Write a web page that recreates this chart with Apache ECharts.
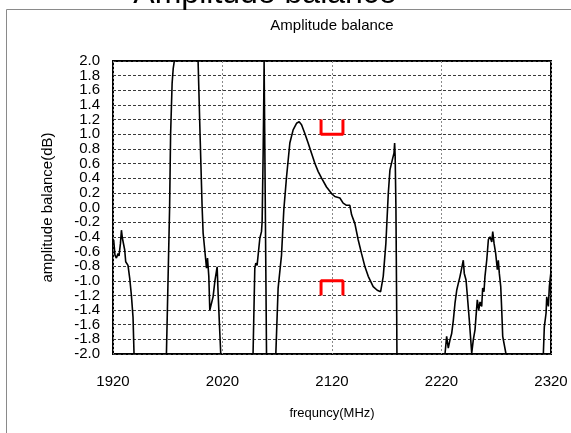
<!DOCTYPE html>
<html>
<head>
<meta charset="utf-8">
<script src="https://cdn.jsdelivr.net/npm/echarts@6/dist/echarts.min.js"></script>
<style>
  html, body { margin: 0; padding: 0; background: #fff; }
  #chart { width: 571px; height: 433px; }
</style>
</head>
<body>
<div id="chart"></div>
<script>
  // measured trace, null = gap (curve leaves the ±2 dB window)
  var freqMHz = [
    1920.6, 1921.8, 1923.1, 1924.6, 1925.5, 1926.8, 1927.7, 1928.6, 1929.8, 1930.7,
    1931.6, 1932.8, 1933.7, 1935.3, 1936.8, 1938.3, 1939.2,
    1950,
    1968.8, 1971.7, 1972.6, 1974.0, 1975.0, 1976.0,
    1987,
    1997.7, 1999.5, 2001.4, 2002.3, 2002.9, 2004.7, 2005.4, 2006.3, 2007.5, 2008.4,
    2009.9, 2011.4, 2013.0, 2015.1, 2016.0, 2016.9, 2018.4,
    2030,
    2047.9, 2049.5, 2050.4, 2051.6, 2053.2, 2054.1, 2055.6, 2056.2, 2057.1, 2057.8,
    2058.0, 2059.6, 2060.2,
    2065,
    2068.7, 2070.8, 2073.9, 2076.0, 2078.5, 2081.5, 2084.5, 2087.6, 2090.0, 2092.2,
    2095.2, 2098.2, 2101.3, 2104.4, 2107.4, 2110.5, 2115.0, 2119.6, 2122.6, 2127.2,
    2130.2, 2133.3, 2136.3, 2137.9, 2139.4, 2140.9, 2143.9, 2147.0, 2150.1, 2153.1,
    2157.6, 2161.3, 2164.4, 2166.8, 2169.2, 2171.4, 2172.9, 2175.4, 2176.6, 2177.2,
    2177.7, 2178.4, 2179.0, 2179.3,
    2200,
    2223.2, 2224.7, 2226.2, 2227.7, 2229.3, 2230.8, 2232.3, 2233.9, 2235.3, 2236.9,
    2238.4, 2239.9, 2240.8, 2242.4, 2243.9, 2245.4, 2247.6, 2249.0, 2250.6, 2251.5,
    2252.7, 2254.0, 2255.2, 2256.7, 2257.6, 2258.8, 2259.7, 2261.3, 2262.8, 2264.3,
    2265.9, 2266.8, 2268.0, 2269.5, 2271.0, 2271.9, 2272.8, 2274.1, 2275.0, 2275.9,
    2277.1, 2278.9,
    2295,
    2313.0, 2313.9, 2315.5, 2316.1, 2317.6, 2318.5, 2319.8
  ]
  var balanceDb = [
    -0.44, -0.65, -0.69, -0.63, -0.66, -0.49, -0.31, -0.42, -0.40, -0.58,
    -0.74, -0.76, -0.79, -0.97, -1.20, -1.50, -2.0,
    null,
    -2.0, 0.0, 1.0, 1.7, 1.9, 2.0,
    null,
    2.0, 1.0, 0.0, -0.35, -0.44, -0.72, -0.83, -0.69, -0.94, -1.40,
    -1.42, -1.22, -1.01, -0.81, -1.17, -1.49, -2.0,
    null,
    -2.0, -0.83, -0.76, -0.79, -0.79, -0.42, -0.33, -0.19, 0.72, 1.63,
    2.0, 2.0, -2.0,
    null,
    -2.0, -1.10, -0.65, -0.03, 0.42, 0.88, 1.06, 1.15, 1.17, 1.13,
    1.01, 0.88, 0.74, 0.60, 0.49, 0.40, 0.28, 0.19, 0.15, 0.13,
    0.06, 0.03, 0.03, -0.10, -0.10, -0.22, -0.44, -0.63, -0.81, -0.94,
    -1.08, -1.13, -1.15, -0.94, -0.49, 0.19, 0.51, 0.67, 0.74, 0.88,
    0.69, -0.03, -1.26, -2.0,
    null,
    -2.0, -1.76, -1.92, -1.81, -1.72, -1.54, -1.31, -1.13, -1.04, -0.94,
    -0.83, -0.72, -0.90, -0.99, -1.26, -1.54, -1.99, -1.81, -1.67, -1.49,
    -1.26, -1.40, -1.29, -1.35, -1.10, -1.15, -0.94, -0.72, -0.44, -0.40,
    -0.47, -0.33, -0.49, -0.63, -0.85, -0.72, -0.90, -1.08, -1.40, -1.76,
    -1.77, -2.0,
    null,
    -2.0, -1.63, -1.44, -1.22, -1.35, -1.08, -0.90
  ]

  // spec brackets
  var specFreq = [2110, 2110, 2130, 2130]
  var specUpper = [1.2, 1.0, 1.0, 1.2]
  var specLower = [-1.2, -1.0, -1.0, -1.2]

  var fStart = 1920   // x axis is drawn as offset from 1920 MHz

  var traceData = freqMHz.map(function (f, i) {
    return [f - fStart, balanceDb[i] === null ? '-' : balanceDb[i]]
  })
  var upperData = specFreq.map(function (f, i) { return [f - fStart, specUpper[i]] })
  var lowerData = specFreq.map(function (f, i) { return [f - fStart, specLower[i]] })

  var font = 'Liberation Sans, Arial, sans-serif'
  var yLabelStyle = { margin: 13, fontFamily: font, fontSize: 15, color: '#000' }

  var option = {
    animation: false,
    backgroundColor: '#fff',
    title: {
      text: 'Amplitude balance',
      left: 327,
      textAlign: 'center',
      top: 13,
      textStyle: { fontFamily: font, fontSize: 15, fontWeight: 'normal', color: '#000' }
    },
    graphic: [
      {
        type: 'rect',
        shape: { x: 6.5, y: 9.5, width: 600, height: 500 },
        style: { fill: 'none', stroke: '#8a8a8a', lineWidth: 1 },
        silent: true
      },
      {
        type: 'text',
        x: 265,
        y: -6,
        style: {
          text: 'Amplitude balance',
          font: '32px ' + font,
          fill: '#000',
          align: 'center',
          verticalAlign: 'middle'
        },
        silent: true
      }
    ],
    grid: {
      left: 113,
      right: 20,
      top: 61,
      bottom: 79,
      show: true,
      borderColor: '#000',
      borderWidth: 2,
      backgroundColor: 'transparent'
    },
    xAxis: {
      type: 'value',
      min: 0,
      max: 400,
      interval: 100,
      name: 'frequncy(MHz)',
      nameLocation: 'middle',
      nameGap: 53,
      nameTextStyle: { fontFamily: font, fontSize: 13, color: '#000' },
      axisLine: { show: false },
      axisTick: { show: false },
      axisLabel: {
        margin: 20,
        fontFamily: font,
        fontSize: 15,
        color: '#000',
        showMinLabel: true,
        showMaxLabel: true,
        formatter: function (v) { return String(v + fStart) }
      },
      splitLine: { show: true, lineStyle: { color: '#8a8a8a', width: 1, type: [2, 2] } }
    },
    yAxis: [
      {
        type: 'value',
        min: -2,
        max: 2,
        interval: 0.2,
        name: 'amplitude balance(dB)',
        nameLocation: 'middle',
        nameGap: 58,
        nameRotate: 90,
        nameTextStyle: { fontFamily: font, fontSize: 15, color: '#000' },
        axisLine: { show: false },
        axisTick: { show: false },
        axisLabel: Object.assign({}, yLabelStyle, {
          showMinLabel: false,
          showMaxLabel: false,
          formatter: function (v) { return v.toFixed(1) }
        }),
        splitLine: { show: true, lineStyle: { color: '#3a3a3a', width: 1, type: [3, 2] } }
      },
      {
        // only carries the -2.0 / 2.0 end labels
        type: 'value',
        position: 'left',
        offset: 0,
        min: -2,
        max: 2,
        interval: 0.2,
        axisLine: { show: false },
        axisTick: { show: false },
        splitLine: { show: false },
        axisLabel: Object.assign({}, yLabelStyle, {
          showMinLabel: true,
          showMaxLabel: true,
          formatter: function (v) { return Math.abs(v) > 1.99 ? v.toFixed(1) : '' }
        })
      }
    ],
    series: [
      {
        name: 'balance',
        type: 'line',
        data: traceData,
        showSymbol: false,
        connectNulls: false,
        clip: true,
        lineStyle: { color: '#000', width: 1.6 }
      },
      {
        name: 'upper spec',
        type: 'line',
        data: upperData,
        showSymbol: false,
        lineStyle: { color: '#ff0000', width: 3 }
      },
      {
        name: 'lower spec',
        type: 'line',
        data: lowerData,
        showSymbol: false,
        lineStyle: { color: '#ff0000', width: 3 }
      }
    ]
  }

  var myChart = echarts.init(document.getElementById('chart'))
  myChart.setOption(option)
</script>
</body>
</html>
